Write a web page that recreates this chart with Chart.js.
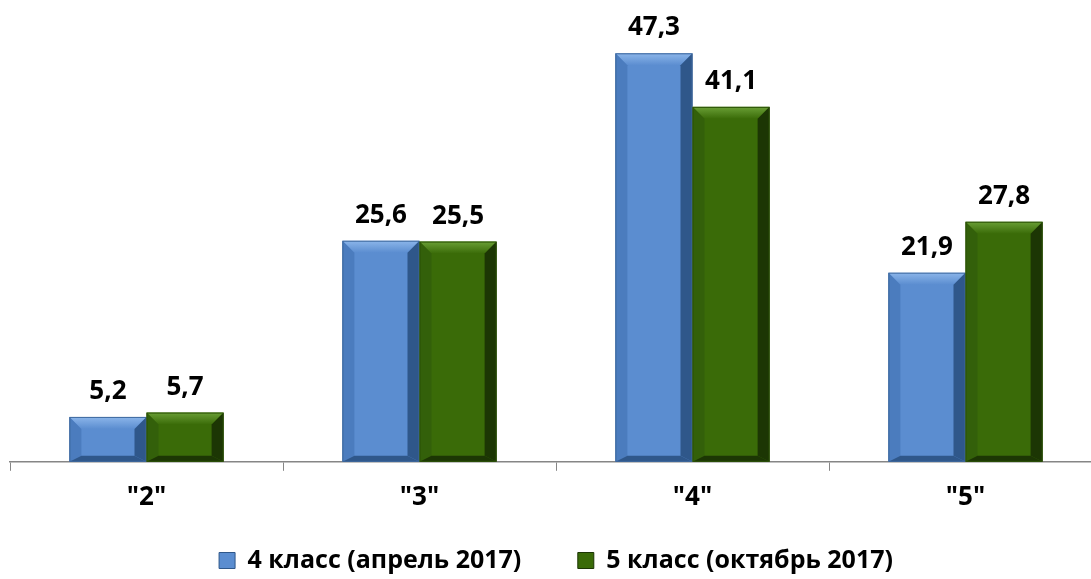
<!DOCTYPE html>
<html>
<head>
<meta charset="utf-8">
<script src="https://cdn.jsdelivr.net/npm/chart.js@4"></script>
<style>
  html, body { margin: 0; padding: 0; background: #fff; overflow: hidden; }
  #wrap { width: 1091px; height: 579px; overflow: hidden; position: relative; }
  #box { position: absolute; left: 0; top: 0; width: 1112px; height: 579px; }
</style>
</head>
<body>
<div id="wrap"><div id="box"><canvas id="myChart"></canvas></div></div>
<script>
var categories = ['"2"', '"3"', '"4"', '"5"'];
var april4 = [5.2, 25.6, 47.3, 21.9];
var october5 = [5.7, 25.5, 41.1, 27.8];
var seriesNames = ["4 класс (апрель 2017)", "5 класс (октябрь 2017)"];

var FONT = "'Open Sans', 'Noto Sans', sans-serif";

// face, light top bevel, dark side bevel
var looks = [
  { face: "#5b8dd0", light: "#8cb6ea", side: "#4b7cbe", dark: "#2f578a", border: "#3c679d" },
  { face: "#3a6b08", light: "#6a9f36", side: "#33600a", dark: "#1c3604", border: "#2a5005" }
];

function shade(ctx, pts, color) {
  ctx.beginPath();
  ctx.moveTo(pts[0], pts[1]);
  for (var i = 2; i < pts.length; i += 2) ctx.lineTo(pts[i], pts[i + 1]);
  ctx.closePath();
  ctx.fillStyle = color;
  ctx.fill();
}

var bevelPlugin = {
  id: "bevel",
  afterDatasetsDraw: function (chart) {
    var ctx = chart.ctx;
    chart.data.datasets.forEach(function (ds, di) {
      var look = looks[di];
      chart.getDatasetMeta(di).data.forEach(function (bar, i) {
        var p = bar.getProps(["x", "y", "base", "width"], true);
        var l = p.x - p.width / 2, r = p.x + p.width / 2, t = p.y, b = p.base;
        var bv = Math.min(12, (b - t) / 2.5);
        var bb = bv * 0.5;
        ctx.save();
        // top
        var g = ctx.createLinearGradient(0, t, 0, t + bv);
        g.addColorStop(0, look.light);
        g.addColorStop(1, look.face);
        shade(ctx, [l, t, r, t, r - bv, t + bv, l + bv, t + bv], g);
        // left
        shade(ctx, [l, t, l + bv, t + bv, l + bv, b - bb, l, b], look.side);
        // right
        shade(ctx, [r, t, r, b, r - bv, b - bb, r - bv, t + bv], look.dark);
        // bottom
        shade(ctx, [l, b, r, b, r - bv, b - bb, l + bv, b - bb], look.dark);
        ctx.strokeStyle = look.border;
        ctx.lineWidth = 1;
        ctx.strokeRect(l + 0.5, t + 0.5, r - l - 1, b - t - 1);
        // value label
        ctx.fillStyle = "#000";
        ctx.font = "bold 26px " + FONT;
        ctx.textAlign = "center";
        ctx.textBaseline = "alphabetic";
        ctx.fillText(String(ds.data[i]).replace(".", ","), p.x, t - 18);
        ctx.restore();
      });
    });
  }
};

var ctx = document.getElementById("myChart").getContext("2d");
var data = {
  labels: categories,
  datasets: [
    {
      label: seriesNames[0],
      data: april4,
      backgroundColor: looks[0].face,
      borderColor: looks[0].border,
      borderWidth: 1,
      categoryPercentage: 0.565,
      barPercentage: 1.0
    },
    {
      label: seriesNames[1],
      data: october5,
      backgroundColor: looks[1].face,
      borderColor: looks[1].border,
      borderWidth: 1,
      categoryPercentage: 0.565,
      barPercentage: 1.0
    }
  ]
};
var options = {
  responsive: true,
  maintainAspectRatio: false,
  animation: false,
  layout: { padding: { left: 10, right: 10, top: 30, bottom: -4 } },
  plugins: {
    legend: {
      display: true,
      position: "bottom",
      labels: {
        font: { family: FONT, size: 25, weight: "bold" },
        color: "#000",
        boxWidth: 16,
        boxHeight: 16,
        padding: 24,
        generateLabels: function (chart) {
          var items = Chart.defaults.plugins.legend.labels.generateLabels(chart);
          items.forEach(function (it, k) {
            it.fillStyle = looks[k].face;
            it.strokeStyle = looks[k].dark;
            it.lineWidth = 1;
            if (k === 0) it.text = it.text + "     ";
          });
          return items;
        }
      }
    },
    tooltip: { enabled: false }
  },
  scales: {
    y: {
      display: false,
      min: 0,
      max: 50
    },
    x: {
      grid: {
        display: true,
        drawOnChartArea: false,
        drawTicks: true,
        tickLength: 9,
        color: "#868686",
        offset: true
      },
      border: { color: "#868686", width: 1.5 },
      ticks: {
        color: "#000",
        padding: 11,
        font: { family: FONT, size: 26, weight: "bold" }
      }
    }
  }
};
var myChart = new Chart(ctx, {
  type: "bar",
  data: data,
  options: options,
  plugins: [bevelPlugin]
});
</script>
</body>
</html>
